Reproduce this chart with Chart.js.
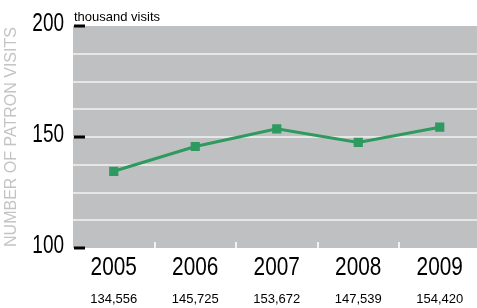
<!DOCTYPE html>
<html>
<head>
<meta charset="utf-8">
<script src="https://cdn.jsdelivr.net/npm/chart.js@4/dist/chart.umd.min.js"></script>
<style>
  html, body { margin: 0; padding: 0; background: #fff; overflow: hidden; }
  #wrap { width: 487px; height: 308px; }
</style>
</head>
<body>
<div id="wrap"><canvas id="chartCanvas" width="487" height="308"></canvas></div>
<script>
// ---- data ----
const years = ['2005', '2006', '2007', '2008', '2009'];
const visits = [134.556, 145.725, 153.672, 147.539, 154.420];   // thousand visits
const visitLabels = ['134,556', '145,725', '153,672', '147,539', '154,420'];
const yLabelTicks = [100, 150, 200];

const REGULAR = '"Liberation Sans", Arial, sans-serif';
const PLOT_BG = '#bfc0c2';
const GRID = '#e6e6e6';
const GREEN = '#2e9a5f';

// draw text squeezed horizontally (the original uses a condensed face)
function narrowText(ctx, text, x, y, size, squeeze, align) {
    ctx.save();
    ctx.font = size + 'px ' + REGULAR;
    ctx.textBaseline = 'middle';
    ctx.textAlign = align;
    ctx.translate(x, y);
    ctx.scale(squeeze, 1);
    ctx.fillText(text, 0, 0);
    ctx.restore();
}

// grey plot background, inner tick marks, labels
const decorPlugin = {
    id: 'decor',
    beforeDraw(chart) {
        const a = chart.chartArea;
        const ctx = chart.ctx;
        ctx.save();
        ctx.fillStyle = PLOT_BG;
        ctx.fillRect(a.left, a.top, a.right - a.left, a.bottom - a.top);
        ctx.restore();
    },
    afterDatasetsDraw(chart) {
        const a = chart.chartArea;
        const ctx = chart.ctx;
        const x = chart.scales.x;
        const y = chart.scales.y;
        ctx.save();

        // white category separators on the bottom edge
        ctx.fillStyle = '#f2f2f2';
        for (let i = 0; i < years.length - 1; i++) {
            const px = (x.getPixelForValue(i) + x.getPixelForValue(i + 1)) / 2;
            ctx.fillRect(Math.round(px) - 1, a.bottom - 6, 2, 6);
        }

        // black ticks + labels for labelled values
        ctx.fillStyle = '#000';
        yLabelTicks.forEach(function(v) {
            const py = y.getPixelForValue(v);
            ctx.fillRect(a.left + 1, Math.round(py) - 1.5, 11, 3);
            narrowText(ctx, String(v), a.left - 9, py - 2.5, 26, 0.73, 'right');
        });

        // year labels
        years.forEach(function(lbl, i) {
            narrowText(ctx, lbl, x.getPixelForValue(i), a.bottom + 19.5, 26, 0.8, 'center');
        });

        // unit
        ctx.font = '13px ' + REGULAR;
        ctx.textBaseline = 'alphabetic';
        ctx.textAlign = 'left';
        ctx.fillText('thousand visits', a.left + 1, a.top - 5);
        ctx.restore();
    }
};

new Chart(document.getElementById('chartCanvas').getContext('2d'), {
    type: 'line',
    data: {
        labels: years,
        datasets: [{
            data: visits,
            borderColor: GREEN,
            backgroundColor: GREEN,
            borderWidth: 3,
            pointStyle: 'rect',
            pointRadius: 6.5,
            pointBorderWidth: 0,
            tension: 0
        }]
    },
    options: {
        responsive: false,
        animation: false,
        events: [],
        layout: { padding: { top: 26, right: 0, left: 0, bottom: 0 } },
        plugins: {
            legend: { display: false },
            tooltip: { enabled: false }
        },
        scales: {
            x: {
                type: 'category',
                position: 'bottom',
                offset: true,
                grid: { display: false },
                border: { display: false },
                ticks: { display: false },
                afterFit(scale) { scale.height = 36; }
            },
            x2: {
                type: 'category',
                position: 'bottom',
                offset: true,
                labels: visitLabels,
                grid: { display: false },
                border: { display: false },
                ticks: {
                    color: '#000',
                    font: { family: REGULAR, size: 13 },
                    padding: 0,
                    maxRotation: 0
                },
                afterFit(scale) { scale.height = 24; }
            },
            y: {
                min: 100,
                max: 200,
                grid: {
                    drawTicks: false,
                    lineWidth: 2,
                    color: function(c) {
                        const v = c.tick && c.tick.value;
                        return (v === 100 || v === 200) ? 'rgba(0,0,0,0)' : GRID;
                    }
                },
                border: { display: false },
                ticks: {
                    stepSize: 12.5,
                    autoSkip: false,
                    display: false
                },
                title: {
                    display: true,
                    text: 'NUMBER OF PATRON VISITS',
                    color: '#c4c4c4',
                    font: { family: REGULAR, size: 16 },
                    padding: { top: 2, bottom: 0 }
                },
                afterFit(scale) { scale.width = 73; }
            }
        }
    },
    plugins: [decorPlugin]
});
</script>
</body>
</html>
